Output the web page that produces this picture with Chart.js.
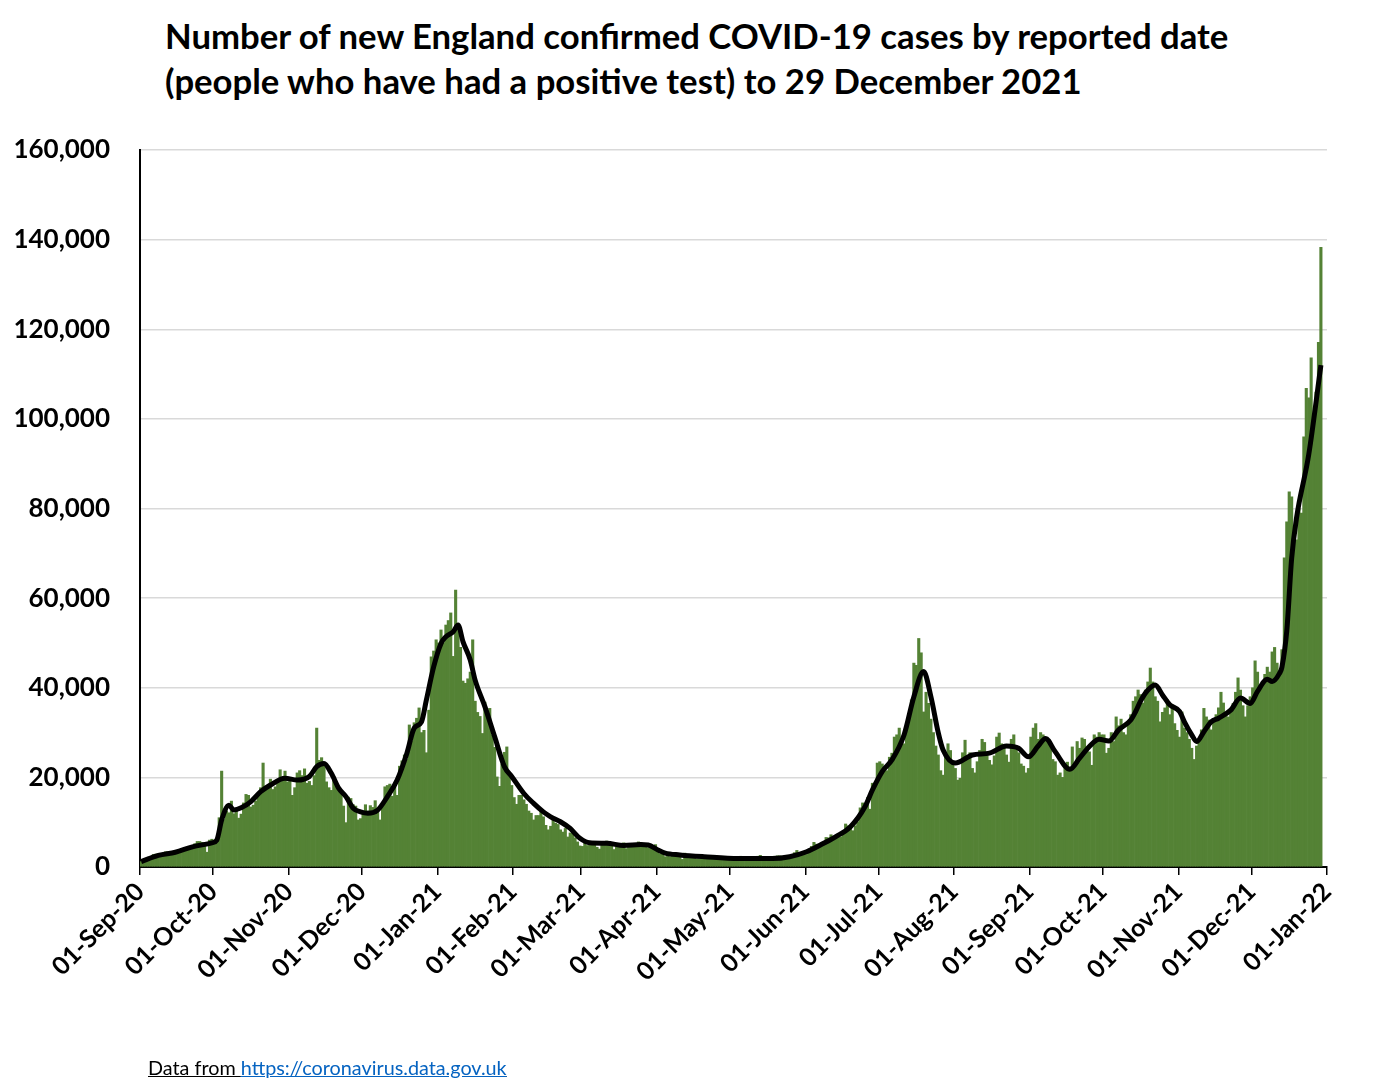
<!DOCTYPE html>
<html>
<head>
<meta charset="utf-8">
<script src="https://cdn.jsdelivr.net/npm/chart.js@4.4.0/dist/chart.umd.min.js"></script>
<style>
  html, body { margin: 0; padding: 0; background: #fff; }
  body { width: 1374px; height: 1092px; position: relative; overflow: hidden; font-family: Lato, 'Open Sans', sans-serif; }
  #title { position: absolute; left: 165px; top: 13px; font-weight: bold; font-size: 34.7px; line-height: 45px; color: #000; white-space: nowrap; }
  #chart { position: absolute; left: 0; top: 0; }
  #source { position: absolute; left: 148px; top: 1056px; font-size: 19.8px; line-height: 22px; color: #000; text-decoration: underline; white-space: nowrap; }
  #source a { color: #0563C1; }
</style>
</head>
<body>
<div id="title">Number of new England confirmed COVID-19 cases by reported date<br>(people who have had a positive test) to 29 December 2021</div>
<canvas id="chart" width="1374" height="1092"></canvas>
<div id="source">Data from <a href="https://coronavirus.data.gov.uk">https://coronavirus.data.gov.uk</a></div>
<script>
// Daily new cases by reported date, one array per month (01-Sep-20 .. 29-Dec-21)
const sep20 = [1200,1500,1900,2200,2100,2800,2900,2500,2700,2900,3400,3400,3000,2600,2900,3600,3300,3500,4000,3800,4100,4600,5200,5700,5700,5500,5000,3300,6000,6200];
const oct20 = [5900,6000,11000,21400,10600,12500,12100,14700,11900,12500,10900,11800,14300,16200,16000,13400,13800,14700,15700,17700,23200,18000,17400,19600,17300,17900,19400,21700,19800,21400,19000];
const nov20 = [20000,16000,17700,21000,21500,20400,21900,18700,19100,18200,20400,31000,23800,24400,22500,19000,17700,17100,20200,17900,17600,16400,13600,9900,15600,15300,13900,13600,10500,10800];
const dec20 = [12000,13900,12500,13700,13300,14800,12300,10500,14300,17900,18200,18500,15800,17900,16000,22500,23700,25000,24000,31700,28100,32200,33200,35500,30000,30500,25500,35000,46900,48200,50700];
const jan21 = [50000,52900,50000,54000,55000,56700,47000,61800,54000,49000,41500,41000,42000,43500,50700,37000,34500,33600,29800,36800,33500,35400,29500,26700,20100,18000,23000,25600,26800,20500,18200];
const feb21 = [15500,14000,16000,16000,15000,14000,12500,12000,10500,11500,11500,12800,11200,9300,8300,9100,10800,9800,9500,8300,7800,8600,6700,7600,7500,6500,5600,4700];
const mar21 = [4600,5500,4800,5600,5200,5100,4400,4000,4900,5000,5800,5600,4700,3900,4400,4500,5000,5400,4100,4800,4600,4600,4600,5600,5400,5000,4600,4300,4600,4500,5000];
const apr21 = [3800,2900,2900,2300,2600,2300,2600,2400,2500,2800,1700,3100,2300,2300,2500,2800,1800,1800,2300,2200,2500,2100,2400,1900,1700,2000,1900,2100,2200,2200];
const may21 = [1900,1700,1700,1900,2400,2300,1900,1800,1700,2200,2100,2400,2600,2000,1900,1800,1800,2200,2400,2500,2500,2000,1800,2200,2200,2800,3200,3700,3000,2900,3100];
const jun21 = [2800,3800,4600,5500,5100,4700,5000,5300,6600,6500,7200,6800,6500,6800,6700,8000,9600,9200,9000,8100,9200,10100,13200,14300,13800,15500,12900,18700,17800,23200];
const jul21 = [23500,23000,21500,21500,24500,25400,29000,29500,31000,28500,27500,30500,33000,37300,45500,45000,51000,47800,34600,39000,36500,33000,30000,27000,25000,21500,20500,24500,27500,26000,23000];
const aug21 = [22000,19400,19800,25500,28300,24800,25500,22000,21000,23500,26000,28500,27800,25000,23800,22800,24800,29000,29900,27500,26500,25000,23400,28500,29500,27000,25500,23000,22500,21000,22000];
const sep21 = [29000,31000,32000,28500,30000,29500,29000,28500,27000,24000,23500,20500,21000,20000,22500,23400,22300,26800,22500,28000,26500,28800,28500,26500,25700,22700,29500,29000,30000,29500];
const oct21 = [29500,25400,26500,30000,28000,33500,31500,33000,30000,29500,32500,34000,37000,38000,39500,38500,36600,39500,41300,44400,41300,38000,37000,32400,34500,35500,37300,34000,36200,32000,30500];
const nov21 = [29000,34600,31000,30000,28500,26500,24000,27000,28500,30600,35400,33500,32800,30600,33000,34000,35500,39000,36600,34400,33500,35000,36500,39000,42200,39500,36000,33500,36000,38000];
const dec21 = [40000,46000,43500,40000,41400,43000,44600,43500,48000,49000,45500,43000,48500,69000,77000,83700,82600,76000,73000,80000,79000,96000,106800,104700,113600,99000,106000,117100,138300];

// 7-day average line
const avgDates = ['2020-09-01','2020-09-08','2020-09-15','2020-09-22','2020-09-30','2020-10-02','2020-10-04','2020-10-07','2020-10-09','2020-10-12',
  '2020-10-16','2020-10-20','2020-10-24','2020-10-30','2020-11-04','2020-11-09','2020-11-12','2020-11-15','2020-11-18','2020-11-21',
  '2020-11-24','2020-11-27','2020-11-30','2020-12-03','2020-12-07','2020-12-11','2020-12-15','2020-12-19','2020-12-22','2020-12-25',
  '2020-12-27','2020-12-30','2021-01-02','2021-01-04','2021-01-07','2021-01-09','2021-01-11','2021-01-14','2021-01-16','2021-01-20',
  '2021-01-24','2021-01-28','2021-01-31','2021-02-05','2021-02-09','2021-02-13','2021-02-16','2021-02-20','2021-02-24','2021-02-28',
  '2021-03-04','2021-03-11','2021-03-18','2021-03-25','2021-03-28','2021-04-01','2021-04-04','2021-04-10','2021-04-20','2021-05-04',
  '2021-05-18','2021-05-25','2021-06-01','2021-06-08','2021-06-13','2021-06-19','2021-06-25','2021-06-28','2021-07-02','2021-07-06',
  '2021-07-11','2021-07-15','2021-07-19','2021-07-22','2021-07-25','2021-07-27','2021-08-01','2021-08-08','2021-08-15','2021-08-22',
  '2021-08-27','2021-08-31','2021-09-04','2021-09-07','2021-09-11','2021-09-17','2021-09-21','2021-09-25','2021-09-29','2021-10-03',
  '2021-10-07','2021-10-12','2021-10-14','2021-10-16','2021-10-18','2021-10-22','2021-10-25','2021-10-28','2021-11-01','2021-11-03',
  '2021-11-06','2021-11-08','2021-11-11','2021-11-14','2021-11-17','2021-11-22','2021-11-26','2021-11-30','2021-12-03','2021-12-07',
  '2021-12-09','2021-12-12','2021-12-13','2021-12-15','2021-12-17','2021-12-19','2021-12-24','2021-12-29'];
const avgValues = [1200,2600,3300,4500,5400,6000,10500,13800,12700,13200,
  14600,16800,18300,19800,19400,20200,22400,23100,20900,17600,
  15700,13100,12300,12000,12700,15700,19400,25400,31000,32400,
  37300,44700,49900,51400,52500,54000,50300,46200,41700,35800,
  29100,22400,20200,16400,14200,12300,11200,10100,8600,6400,
  5400,5300,4800,5000,4900,3800,3100,2700,2300,1900,
  1900,2300,3400,5300,6800,9000,13500,17200,21300,23900,
  29500,38000,43600,38000,30000,26100,23200,25000,25400,27000,
  26500,24600,27000,28700,25700,21800,24300,26900,28500,28100,
  30600,32800,34700,37000,38800,40600,38400,36200,34700,32400,
  29500,28000,30200,32400,33200,35000,37700,36500,39200,41900,
  41400,43200,44600,52700,68900,77900,92000,112000];

// x axis: one tick on the first of each month
const tickLabels = ['01-Sep-20','01-Oct-20','01-Nov-20','01-Dec-20','01-Jan-21','01-Feb-21','01-Mar-21','01-Apr-21','01-May-21',
  '01-Jun-21','01-Jul-21','01-Aug-21','01-Sep-21','01-Oct-21','01-Nov-21','01-Dec-21','01-Jan-22'];

const DAY = 864e5;
const start = Date.UTC(2020, 8, 1);
const dayIndex = s => (Date.parse(s + 'T00:00:00Z') - start) / DAY;
const tickPos = tickLabels.map((l, i) => (Date.UTC(2020, 8 + i, 1) - start) / DAY);

const daily = [].concat(sep20, oct20, nov20, dec20, jan21, feb21, mar21, apr21, may21, jun21, jul21, aug21, sep21, oct21, nov21, dec21);
const barPts = daily.map((v, i) => ({ x: i + 0.5, y: v }));
const avgPts = avgDates.map((d, i) => ({ x: dayIndex(d) + 0.5, y: avgValues[i] }));

const tickFont = { family: 'Lato', weight: 'bold', size: 25 };

new Chart(document.getElementById('chart').getContext('2d'), {
    data: {
        datasets: [
            {
                type: 'line',
                label: '7-day average',
                data: avgPts,
                borderColor: '#000',
                borderWidth: 5,
                pointRadius: 0,
                cubicInterpolationMode: 'monotone',
                order: 0
            },
            {
                type: 'bar',
                label: 'New cases',
                data: barPts,
                backgroundColor: '#548235',
                borderWidth: 0,
                barPercentage: 1,
                categoryPercentage: 1,
                order: 1
            }
        ]
    },
    options: {
        responsive: false,
        animation: false,
        layout: { padding: { left: 0, top: 150, right: 47, bottom: 0 } },
        plugins: { legend: { display: false }, tooltip: { enabled: false } },
        scales: {
            x: {
                type: 'linear',
                offset: false,
                min: 0,
                max: tickPos[tickPos.length - 1],
                afterBuildTicks: axis => { axis.ticks = tickPos.map(v => ({ value: v })); },
                afterFit: axis => { axis.height = 225; },
                ticks: {
                    callback: (v, i) => tickLabels[i],
                    autoSkip: false,
                    minRotation: 45,
                    maxRotation: 45,
                    padding: 2,
                    color: '#000',
                    font: tickFont
                },
                grid: { offset: false, drawOnChartArea: false, drawTicks: true, tickLength: 8, color: '#000', lineWidth: 1.5 },
                border: { color: '#000', width: 2 }
            },
            y: {
                min: 0,
                max: 160000,
                afterFit: axis => { axis.width = 140; },
                ticks: {
                    stepSize: 20000,
                    callback: v => v.toLocaleString('en-GB'),
                    padding: 30,
                    color: '#000',
                    font: { family: 'Lato', weight: 'bold', size: 26 }
                },
                grid: { color: '#d9d9d9', lineWidth: 1.5, drawTicks: false },
                border: { color: '#000', width: 2 }
            }
        }
    }
});
</script>
</body>
</html>
